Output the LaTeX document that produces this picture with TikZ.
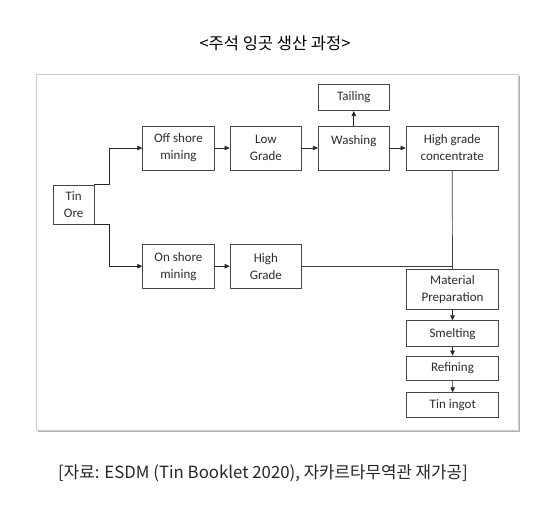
\documentclass[tikz,border=0pt]{standalone}
\usepackage{fontspec}
\setmainfont{Carlito}
\newfontfamily\krfont{Noto Sans CJK KR}
\usetikzlibrary{arrows.meta}
\definecolor{boxline}{RGB}{70,70,70}
\definecolor{boxtext}{RGB}{45,45,45}

\begin{document}
\begin{tikzpicture}[x=1pt, y=-1pt,
  box/.style={rectangle, draw=boxline, line width=0.8pt, inner sep=0pt,
              align=center, text=boxtext,
              font=\fontsize{13}{17}\selectfont},
  arr/.style={-{Triangle[length=5pt, width=4.5pt]}, line width=0.7pt, color=black!85},
  lin/.style={line width=0.7pt, color=black!75}
]
\useasboundingbox (0,0) rectangle (550,514);
% frame with shadow
\fill[black!30] (38,76) rectangle (520,432);
\draw[fill=white, draw=black!20, line width=0.8pt] (36,74) rectangle (518,430);
% title and source
\node[font=\krfont\fontsize{16.5}{18}\selectfont] (title) at (275,43) {<주석 잉곳 생산 과정>};
\node[font=\krfont\fontsize{16.8}{19}\selectfont, text=black!85] (src) at (263,473)
  {[자료: ESDM (Tin Booklet 2020), 자카르타무역관 재가공]};
% boxes
\node[box, minimum width=40.7pt, minimum height=39.3pt] (ore)    at (73.7,204.7) {Tin\\Ore};
\node[box, minimum width=71.3pt, minimum height=44pt]   (off)    at (178.4,148)  {Off shore\\mining};
\node[box, minimum width=71.7pt, minimum height=44pt]   (low)    at (265.9,148)  {Low\\Grade};
\node[box, minimum width=71pt,   minimum height=44pt]   (wash)   at (353.8,148)  {Washing\\~};
\node[box, minimum width=71pt,   minimum height=26.7pt] (tail)   at (353.8,97.3) {Tailing};
\node[box, minimum width=92.3pt, minimum height=44pt]   (hgc)    at (452.2,148)  {High grade\\concentrate};
\node[box, minimum width=71.3pt, minimum height=44.3pt] (on)     at (178.4,266.2) {On shore\\mining};
\node[box, minimum width=71.7pt, minimum height=44.3pt] (high)   at (265.9,266.2) {High\\Grade};
\node[box, minimum width=91.6pt, minimum height=40pt]   (prep)   at (452.5,289.3) {Material\\Preparation};
\node[box, minimum width=91.6pt, minimum height=26pt]   (smelt)  at (452.5,333.7) {Smelting};
\node[box, minimum width=91.6pt, minimum height=24pt]   (refine) at (452.5,368)   {Refining};
\node[box, minimum width=92pt,   minimum height=24.6pt] (ingot)  at (452.8,405)   {Tin ingot};
% connectors
\draw[arr] (ore.north east) -- ++(14.5,0) |- (off.west);
\draw[arr] (ore.south east) -- ++(14.5,0) |- (on.west);
\draw[arr] (off) -- (low);
\draw[arr] (low) -- (wash);
\draw[arr] (wash) -- (hgc);
\draw[arr] (wash) -- (tail);
\draw[arr] (on) -- (high);
\draw[lin] (hgc.south) -- (prep.north);
\draw[lin] (high.east) -- (high.east -| prep.north);
\draw[arr] (prep) -- (smelt);
\draw[arr] (smelt) -- (refine);
\draw[arr] (refine) -- (ingot);
\end{tikzpicture}
\end{document}
